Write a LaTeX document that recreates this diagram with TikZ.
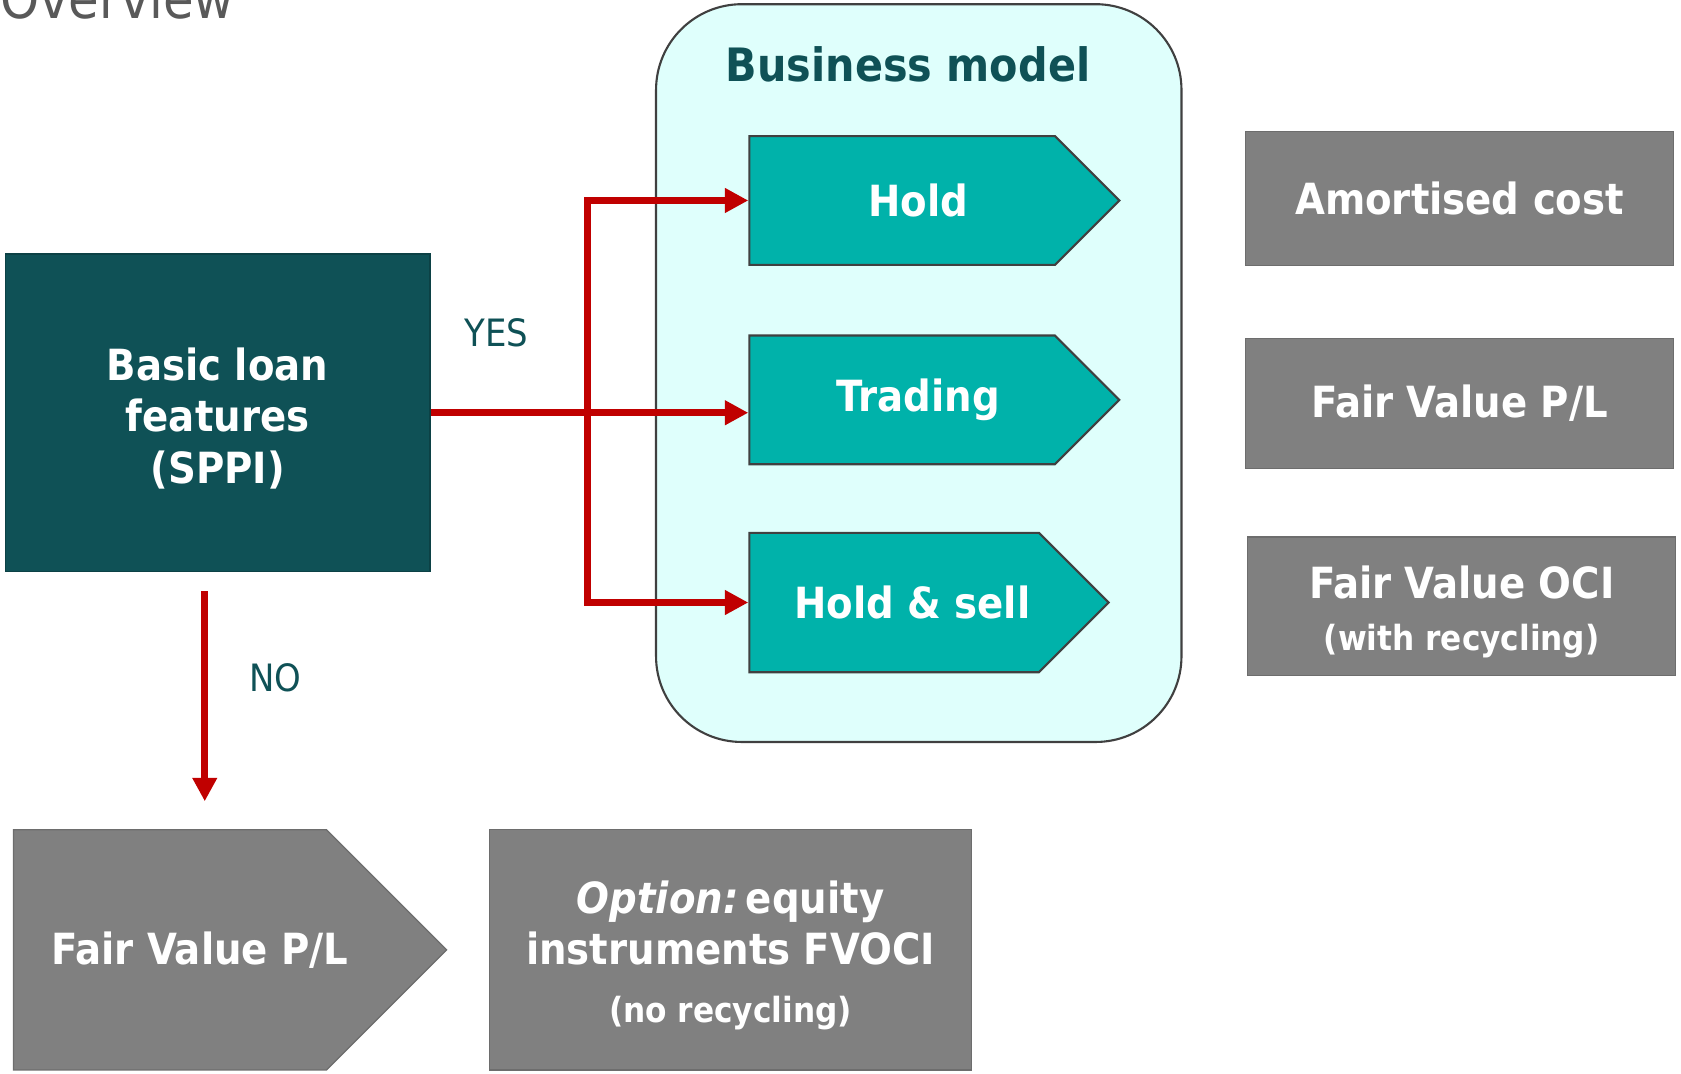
\documentclass[tikz,border=0pt]{standalone}
\usepackage{fontspec}
\setmainfont{DejaVu Sans Condensed}[BoldFont={DejaVu Sans Condensed Bold},BoldItalicFont={DejaVu Sans Condensed Bold Oblique}]
\usepackage{tikz}
\usetikzlibrary{shapes.symbols}
\usetikzlibrary{arrows.meta}

\definecolor{petrol}{HTML}{0F5156}
\definecolor{lagoon}{HTML}{00B2AA}
\definecolor{mint}{HTML}{DFFFFC}
\definecolor{edgegray}{HTML}{404040}
\definecolor{slate}{HTML}{808080}
\definecolor{signalred}{HTML}{C00000}
\definecolor{headgray}{HTML}{595959}

\newcommand{\boxfont}{\bfseries\fontsize{28.5}{34}\selectfont}
\newcommand{\subfont}{\fontsize{23}{28}\selectfont}

\tikzset{
	tealsignal/.style={signal, signal to=east, signal pointer angle=90, fill=lagoon, draw=edgegray, line width=1.4pt, text=white, font=\boxfont, inner sep=0pt, anchor=west},
	graysignal/.style={signal, signal to=east, signal pointer angle=90, fill=slate, draw=slate!85!black, line width=0.8pt, text=white, font=\boxfont, inner sep=0pt, anchor=west},
	graybox/.style={rectangle, fill=slate, draw=slate!85!black, line width=0.8pt, text=white, font=\boxfont, align=center, inner sep=0pt},
	redarrow/.style={draw=signalred, line width=4.6pt, -{Triangle[length=15.5pt,width=15.5pt]}},
	answer/.style={text=petrol, font=\fontsize{25}{30}\selectfont, inner sep=0pt},
}

\begin{document}
\begin{tikzpicture}[x=0.025cm, y=-0.025cm]
	\useasboundingbox (0, 0) rectangle (1568, 1001);
	% Heading
	\node[anchor=base west, text=headgray, font=\fontsize{36.7}{40}\selectfont, inner sep=0pt] (heading) at (0, 17){Overview};
	% Business model frame and its three routes
	\node[rectangle, rounded corners=2cm, fill=mint, draw=edgegray, line width=1.4pt, minimum width=12.25cm, minimum height=17.2cm](bm) at (857, 348){};
	\node[text=petrol, font=\bfseries\fontsize{30.5}{36}\selectfont, inner sep=0pt](bmtitle) at (847, 60){Business model};
	\node[tealsignal, minimum width=8.625cm, minimum height=3cm](hold) at (698, 187){\hspace*{0.75cm}Hold};
	\node[tealsignal, minimum width=8.625cm, minimum height=3cm](trading) at (698, 373){\hspace*{0.75cm}Trading};
	\node[tealsignal, minimum width=8.375cm, minimum height=3.25cm](holdsell) at (698, 562){\hspace*{0.85cm}Hold \& sell};
	% Test and outcomes
	\node[rectangle, fill=petrol, draw=petrol!80!black, line width=0.8pt, text=white, font=\boxfont, align=center, minimum width=9.9cm, minimum height=7.4cm](basic) at (203, 385){\rule{0pt}{29pt}Basic loan\\features\\(SPPI)};
	\node[graybox, minimum width=9.975cm, minimum height=3.125cm](amort) at (1361.5, 185.5){Amortised cost};
	\node[graybox, minimum width=9.975cm, minimum height=3.025cm](fvpl) at (1361.5, 376.5){Fair Value P/L};
	\node[graybox, minimum width=9.975cm, minimum height=3.225cm](fvoci) at (1363.5, 565.5){\rule{0pt}{29pt}Fair Value OCI\\{\subfont (with recycling)}};
	\node[graysignal, minimum width=10.1cm, minimum height=5.6cm](fvplno) at (12, 886){\makebox[0pt]{\hspace*{1.4cm}Fair Value P/L}};
	\node[graybox, minimum width=11.225cm, minimum height=5.6cm](option) at (681.5, 886){\rule{0pt}{29pt}{\itshape Option:}\,equity\\instruments FVOCI\\[4pt]{\subfont (no recycling)}};
	% Red connectors
	\coordinate (bus) at (548, 385);
	\draw[redarrow] (basic.east) -- (basic.east -| trading.west);
	\draw[redarrow] (bus) |- (hold.west);
	\draw[redarrow] (bus) |- (holdsell.west);
	\draw[redarrow, shorten <=0.45cm, shorten >=0.65cm] ([xshift=-0.3cm]basic.south) -- ([xshift=-0.3cm]basic.south |- fvplno.north);
	\node[answer](yes) at (463, 310){YES};
	\node[answer](no) at (257, 632){NO};
\end{tikzpicture}
\end{document}
